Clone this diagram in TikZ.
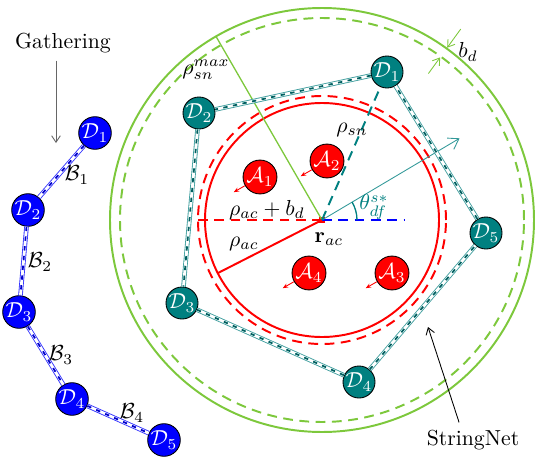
\documentclass[tikz,border=0pt]{standalone}
\usepackage{amsmath}
\usetikzlibrary{arrows.meta}
\definecolor{sngreen}{RGB}{125,200,60}
\begin{document}
\begin{tikzpicture}[x=0.46pt,y=0.46pt]
	\useasboundingbox (0,0) rectangle (538,463);
	\begin{scope}[scale=1]
	
	\tikzstyle{gnode}=[circle,
	draw=black,
	fill=blue,
	text=white,
	inner sep=0pt,
	minimum size=15pt
	]
	\tikzstyle{snode}=[gnode, fill=teal, minimum size=14.7pt]
	\tikzstyle{anode}=[gnode, fill=red, minimum size=15.6pt]
	\tikzstyle{snlink}=[draw=white, line width=1.3pt,
	preaction={draw=teal!75, line width=2.1pt},
	postaction={draw=teal!75!black, line width=0.8pt, dash pattern=on 2pt off 2.5pt}]
	\tikzstyle{galink}=[draw=white, line width=1.3pt,
	preaction={draw=blue!80, line width=2.1pt},
	postaction={draw=blue!80!black, line width=0.8pt, dash pattern=on 2pt off 2.5pt}]
	\tikzstyle{hint}=[draw=black!60, line width=0.4pt, -{Straight Barb[length=3pt,width=4pt]}]
	\tikzstyle{push}=[draw=red, line width=0.4pt, -{Stealth[length=2.5pt,width=2pt]}]
	
	% gathering chain
	\coordinate (pg1) at (95, 330);
	\coordinate (pg2) at (28, 253);
	\coordinate (pg3) at (19, 151);
	\coordinate (pg4) at (72, 64);
	\coordinate (pg5) at (164, 23);
	
	\node[gnode] (g1) at (pg1) {$\mathcal{D}_1$};
	\node[gnode] (g2) at (pg2) {$\mathcal{D}_2$};
	\node[gnode] (g3) at (pg3) {$\mathcal{D}_3$};
	\node[gnode] (g4) at (pg4) {$\mathcal{D}_4$};
	\node[gnode] (g5) at (pg5) {$\mathcal{D}_5$};
	
	\draw[galink] (g1) -- (g2);
	\draw[galink] (g2) -- (g3);
	\draw[galink] (g3) -- (g4);
	\draw[galink] (g4) -- (g5);
	
	\node (b1) at (77, 288) {$\mathcal{B}_1$};
	\node (b2) at (40, 201) {$\mathcal{B}_2$};
	\node (b3) at (61, 108) {$\mathcal{B}_3$};
	\node (b4) at (132, 50) {$\mathcal{B}_4$};
	
	\node (gath) at (63, 420) {Gathering};
	\coordinate (pgath) at (56, 320);
	\draw[hint] (gath.south -| pgath) -- (pgath);
	
	% stringnet
	\coordinate (prac) at (322, 243);
	
	\draw[sngreen, line width=0.9pt] (prac) circle[radius=212];
	\draw[sngreen, line width=0.9pt, dash pattern=on 4.5pt off 3pt] (prac) circle[radius=202];
	\draw[red, line width=0.9pt] (prac) circle[radius=117];
	\draw[red, line width=0.9pt, dash pattern=on 4.5pt off 3pt] (prac) circle[radius=124];
	
	\node[fill=red, inner sep=0pt, minimum size=3pt] (rac) at (prac) {};
	
	\coordinate (pmax) at ([shift={(prac)}]120:212);
	\coordinate (pac) at ([shift={(prac)}]207:117);
	\coordinate (pacb) at ([shift={(prac)}]180:124);
	\coordinate (pdir) at ([shift={(prac)}]0:83);
	\coordinate (ptheta) at ([shift={(prac)}]30.7:160);
	
	\draw[sngreen, line width=0.6pt] (rac.center) -- (pmax);
	\draw[red, line width=0.9pt] (rac.center) -- (pac);
	\draw[red, line width=0.9pt, dash pattern=on 4.5pt off 3pt] (rac.center) -- (pacb);
	\draw[blue, line width=0.9pt, dash pattern=on 4.5pt off 3pt] (rac.center) -- (pdir);
	\draw[teal!80, line width=0.4pt, -{Straight Barb[length=4.5pt,width=6pt]}] (rac.center) -- (ptheta);
	\draw[teal, line width=0.6pt] ([shift={(prac)}]0:35) arc[start angle=0, end angle=30.7, radius=35];
	
	\coordinate (ps1) at (387, 391);
	\coordinate (ps2) at (199, 350);
	\coordinate (ps3) at (182, 160);
	\coordinate (ps4) at (359, 81);
	\coordinate (ps5) at (486, 230);
	
	\node[snode] (s1) at (ps1) {$\mathcal{D}_1$};
	\node[snode] (s2) at (ps2) {$\mathcal{D}_2$};
	\node[snode] (s3) at (ps3) {$\mathcal{D}_3$};
	\node[snode] (s4) at (ps4) {$\mathcal{D}_4$};
	\node[snode] (s5) at (ps5) {$\mathcal{D}_5$};
	
	\draw[snlink] (s1) -- (s2);
	\draw[snlink] (s2) -- (s3);
	\draw[snlink] (s3) -- (s4);
	\draw[snlink] (s4) -- (s5);
	\draw[snlink] (s5) -- (s1);
	
	\draw[teal, line width=0.9pt, dash pattern=on 4.5pt off 3pt] (rac.center) -- (s1);
	
	\node[anode] (a1) at (260, 286) {$\mathcal{A}_1$};
	\node[anode] (a2) at (327, 302) {$\mathcal{A}_2$};
	\node[anode] (a3) at (392, 190) {$\mathcal{A}_3$};
	\node[anode] (a4) at (309, 190) {$\mathcal{A}_4$};
	
	\coordinate (pa1) at ([shift={(a1.210)}]210:13);
	\coordinate (pa2) at ([shift={(a2.210)}]210:13);
	\coordinate (pa3) at ([shift={(a3.210)}]210:13);
	\coordinate (pa4) at ([shift={(a4.210)}]210:13);
	\draw[push] (a1.210) -- (pa1);
	\draw[push] (a2.210) -- (pa2);
	\draw[push] (a3.210) -- (pa3);
	\draw[push] (a4.210) -- (pa4);
	
	% band width
	\coordinate (pbo) at ([shift={(prac)}]54:236);
	\coordinate (pbi) at ([shift={(prac)}]54:181);
	\coordinate (pbot) at ([shift={(prac)}]54:213);
	\coordinate (pbit) at ([shift={(prac)}]54:201);
	\draw[sngreen, line width=0.4pt, -{Straight Barb[length=3pt,width=4pt]}] (pbo) -- (pbot);
	\draw[sngreen, line width=0.4pt, -{Straight Barb[length=3pt,width=4pt]}] (pbi) -- (pbit);
	
	% labels
	\node (lmax) at (206, 393) {$\rho_{sn}^{max}$};
	\node (lsn) at (352, 333) {$\rho_{sn}$};
	\node (lacb) at (267, 253) {$\rho_{ac}+b_d$};
	\node (lac) at (244, 219) {$\rho_{ac}$};
	\node (lrac) at (329, 224) {$\mathbf{r}_{ac}$};
	\node[text=teal] (ltheta) at (374, 256) {$\theta_{df}^{s*}$};
	\node (lbd) at (468, 411) {$b_d$};
	
	\node (sn) at (473, 23) {StringNet};
	\coordinate (psn) at (428, 136);
	\draw[hint, draw=black] (sn.north west) ++(40,0) -- (psn);
	
	\end{scope}
\end{tikzpicture}
\end{document}
